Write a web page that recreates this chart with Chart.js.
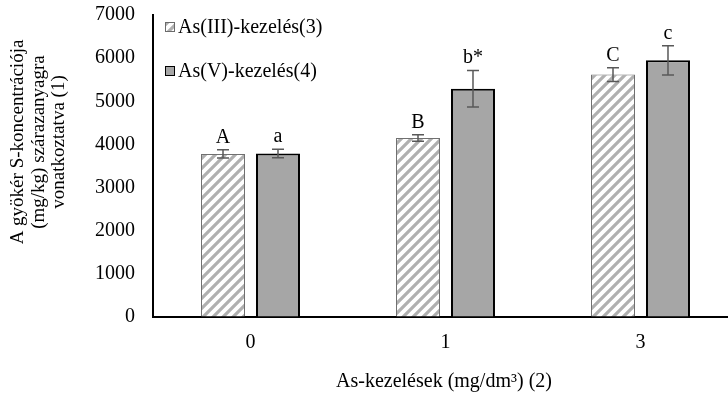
<!DOCTYPE html>
<html>
<head>
<meta charset="utf-8">
<script src="https://cdn.jsdelivr.net/npm/chart.js@4.4.1/dist/chart.umd.min.js"></script>
<style>
html,body{margin:0;padding:0;background:#fff;overflow:hidden;}
#wrap{position:relative;width:745px;height:394px;}
</style>
</head>
<body>
<div id="wrap"><canvas id="c"></canvas></div>
<script>
const categories = ['0', '1', '3'];
const seriesNames = ['As(III)-kezelés(3)', 'As(V)-kezelés(4)'];
const as3Values = [3780, 4150, 5620];
const as3Errors = [95, 75, 160];
const as5Values = [3790, 5290, 5950];
const as5Errors = [100, 425, 340];
const as3Letters = ['A', 'B', 'C'];
const as5Letters = ['a', 'b*', 'c'];
const yTickValues = [0, 1000, 2000, 3000, 4000, 5000, 6000, 7000];
const yTitleLines = ['A gyökér S-koncentrációja', '(mg/kg) szárazanyagra', 'vonatkoztatva (1)'];
const xTitle = 'As-kezelések (mg/dm³) (2)';

const FONT = '"Liberation Serif", "DejaVu Serif", serif';
const FS = 20;

function makeHatch() {
  const s = 10;
  const c = document.createElement('canvas');
  c.width = s; c.height = s;
  const g = c.getContext('2d');
  g.fillStyle = '#ffffff';
  g.fillRect(0, 0, s, s);
  g.strokeStyle = '#b0b0b0';
  g.lineWidth = 3.2;
  g.beginPath();
  g.moveTo(-2, s + 2); g.lineTo(s + 2, -2);
  g.moveTo(-2, 2); g.lineTo(2, -2);
  g.moveTo(s - 2, s + 2); g.lineTo(s + 2, s - 2);
  g.stroke();
  return g.createPattern(c, 'repeat');
}
const hatch = makeHatch();

const errors = [as3Errors, as5Errors];
const letters = [as3Letters, as5Letters];

const extras = {
  id: 'extras',
  afterDatasetsDraw(chart) {
    const ctx = chart.ctx;
    const y = chart.scales.y;
    ctx.save();
    chart.data.datasets.forEach((ds, di) => {
      const meta = chart.getDatasetMeta(di);
      meta.data.forEach((bar, i) => {
        const v = ds.data[i], e = errors[di][i];
        const top = y.getPixelForValue(v + e);
        const bot = y.getPixelForValue(v - e);
        const x = bar.x;
        ctx.strokeStyle = '#595959';
        ctx.lineWidth = 1.5;
        ctx.beginPath();
        ctx.moveTo(x, top); ctx.lineTo(x, bot);
        ctx.moveTo(x - 6, top); ctx.lineTo(x + 6, top);
        ctx.moveTo(x - 6, bot); ctx.lineTo(x + 6, bot);
        ctx.stroke();
        ctx.fillStyle = '#000';
        ctx.font = FS + 'px ' + FONT;
        ctx.textAlign = 'center';
        ctx.textBaseline = 'alphabetic';
        ctx.fillText(letters[di][i], x, top - 7);
      });
    });
    // legend
    ctx.font = FS + 'px ' + FONT;
    ctx.textAlign = 'left';
    ctx.textBaseline = 'middle';
    const ly = [27, 71];
    chart.data.datasets.forEach((ds, di) => {
      const sx = 165, sy = ly[di] - 5, sz = 10;
      ctx.fillStyle = di === 0 ? hatch : ds.backgroundColor;
      ctx.fillRect(sx, sy, sz, sz);
      ctx.strokeStyle = di === 0 ? '#6b6b6b' : '#000';
      ctx.lineWidth = 1;
      ctx.strokeRect(sx + 0.5, sy + 0.5, sz - 1, sz - 1);
      ctx.fillStyle = '#000';
      ctx.fillText(seriesNames[di], 178, ly[di] + 1);
    });
    // axis titles
    ctx.textAlign = 'center';
    ctx.textBaseline = 'middle';
    ctx.font = FS + 'px ' + FONT;
    ctx.fillText(xTitle, 444, 382);
    ctx.font = '19px ' + FONT;
    ctx.translate(0, 142);
    ctx.rotate(-Math.PI / 2);
    const xs = [18, 39, 59];
    yTitleLines.forEach((t, k) => ctx.fillText(t, 0, xs[k]));
    ctx.restore();
  }
};

new Chart(document.getElementById('c'), {
  type: 'bar',
  data: {
    labels: categories,
    datasets: [
      { label: seriesNames[0], data: as3Values, backgroundColor: hatch, borderColor: '#707070', borderWidth: 1 },
      { label: seriesNames[1], data: as5Values, backgroundColor: '#a6a6a6', borderColor: '#000000', borderWidth: 2 }
    ]
  },
  options: {
    responsive: true,
    maintainAspectRatio: false,
    animation: false,
    devicePixelRatio: 1,
    layout: { padding: { top: 15, right: 7, bottom: 0, left: 0 } },
    datasets: { bar: { categoryPercentage: 0.564, barPercentage: 0.8 } },
    plugins: { legend: { display: false }, tooltip: { enabled: false } },
    scales: {
      x: {
        grid: { drawOnChartArea: false, drawTicks: true, tickLength: 14, tickColor: 'rgba(0,0,0,0)' },
        border: { color: '#000', width: 2 },
        ticks: { color: '#000', font: { family: FONT, size: FS }, padding: 0 },
        afterFit(s) { s.height = 77; }
      },
      y: {
        min: 0, max: 7000,
        grid: { drawOnChartArea: false, drawTicks: true, tickLength: 18, tickColor: 'rgba(0,0,0,0)' },
        border: { color: '#000', width: 2 },
        afterBuildTicks(s) { s.ticks = yTickValues.map(v => ({ value: v })); },
        ticks: { color: '#000', font: { family: FONT, size: FS }, padding: 0, callback: v => String(v) },
        afterFit(s) { s.width = 153; }
      }
    }
  },
  plugins: [extras]
});
</script>
</body>
</html>
